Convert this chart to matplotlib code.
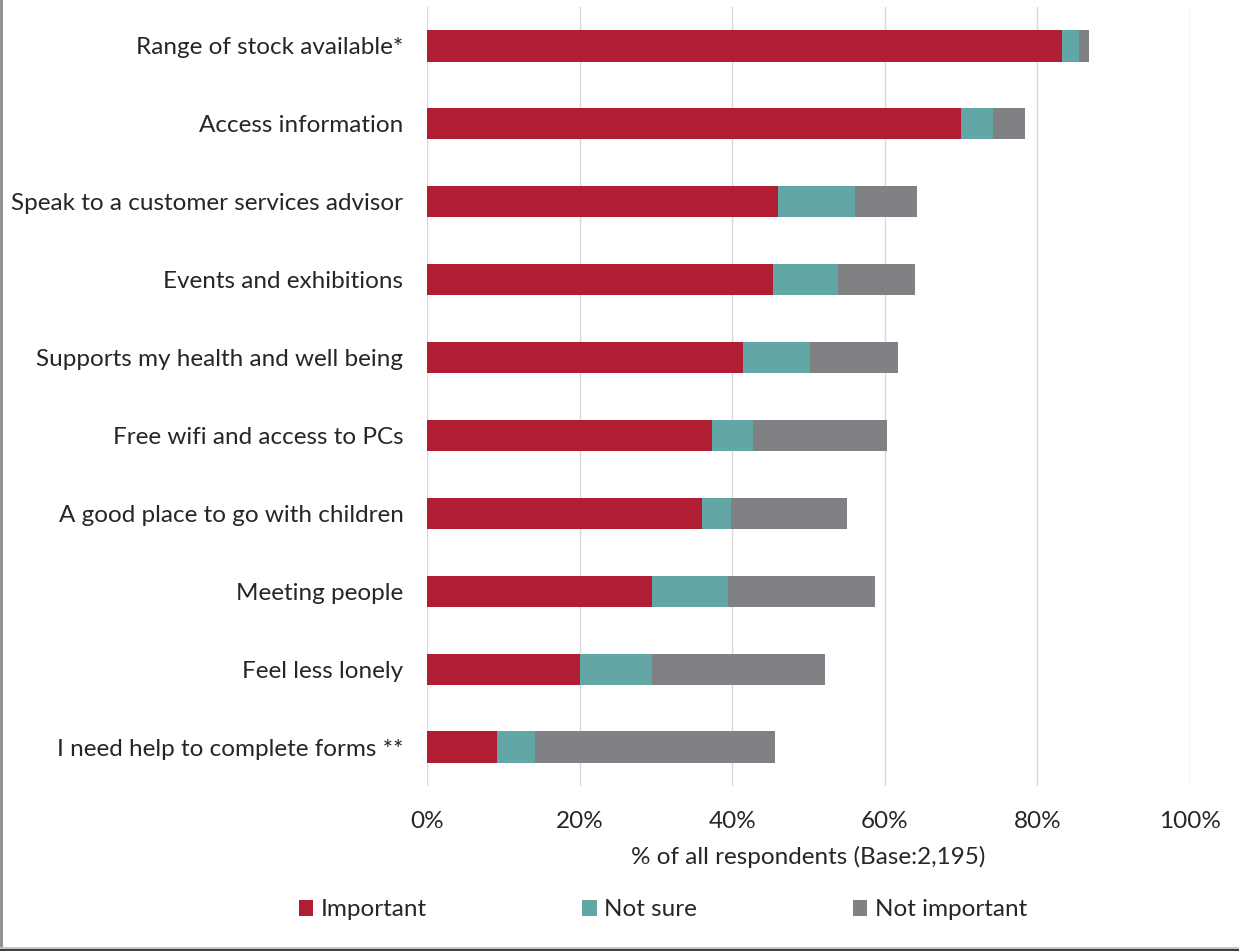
import matplotlib.pyplot as plt
import numpy as np
from matplotlib.lines import Line2D

plt.rcParams['font.family'] = ['Lato', 'DejaVu Sans']

categories = [
    'Range of stock available*',
    'Access information',
    'Speak to a customer services advisor',
    'Events and exhibitions',
    'Supports my health and well being',
    'Free wifi and access to PCs',
    'A good place to go with children',
    'Meeting people',
    'Feel less lonely',
    'I need help to complete forms **',
]
important = [83.2, 70.0, 46.0, 45.4, 41.4, 37.3, 36.1, 29.5, 20.1, 9.2]
not_sure = [2.3, 4.2, 10.1, 8.5, 8.8, 5.4, 3.8, 9.9, 9.4, 4.9]
not_important = [1.3, 4.2, 8.1, 10.0, 11.5, 17.6, 15.2, 19.3, 22.7, 31.5]

series = [('Important', important, '#AF1E32'),
          ('Not sure', not_sure, '#62A6A6'),
          ('Not important', not_important, '#808184')]

fs = 17.5
fig = plt.figure(figsize=(12.39, 9.51), dpi=100)
ax = fig.add_axes([427 / 1239, 1 - 786 / 951, (1190 - 427) / 1239, (786 - 7) / 951])

y = np.arange(len(categories))
left = np.zeros(len(categories))
for name, vals, col in series:
    ax.barh(y, vals, left=left, height=0.4, color=col, label=name, zorder=3)
    left += np.array(vals)

ax.set_ylim(len(categories) - 0.5, -0.5)
ax.set_xlim(0, 100)
ax.set_xticks(range(0, 101, 20))
ax.set_xticklabels([f'{v}%' for v in range(0, 101, 20)])
ax.set_yticks(y)
ax.set_yticklabels(categories)
ax.tick_params(axis='both', length=0, labelsize=fs, colors='#262626')
ax.tick_params(axis='x', pad=18)
ax.tick_params(axis='y', pad=17)
ax.grid(axis='x', color='#D9D9D9', lw=1, zorder=0)
for s in ax.spines.values():
    s.set_visible(False)
ax.set_xlabel('% of all respondents (Base:2,195)', fontsize=fs, color='#262626', labelpad=10)

handles, labels = ax.get_legend_handles_labels()
fig.legend(handles, labels, loc='center', bbox_to_anchor=(0.535, 1 - 910 / 951), ncol=3,
           frameon=False, fontsize=fs, handlelength=0.6, handleheight=0.6,
           handletextpad=0.3, columnspacing=6.4, labelcolor='#262626')

# outer frame: left and bottom edges only
fig.add_artist(Line2D([0.001, 0.001], [0, 1], transform=fig.transFigure, color='#8C8C8C', lw=2))
fig.add_artist(Line2D([0, 1], [0.003, 0.003], transform=fig.transFigure, color='#C8C8C8', lw=2))
fig.add_artist(Line2D([0, 1], [0.001, 0.001], transform=fig.transFigure, color='#404040', lw=1.5))

fig.savefig('out.png', dpi=100)
